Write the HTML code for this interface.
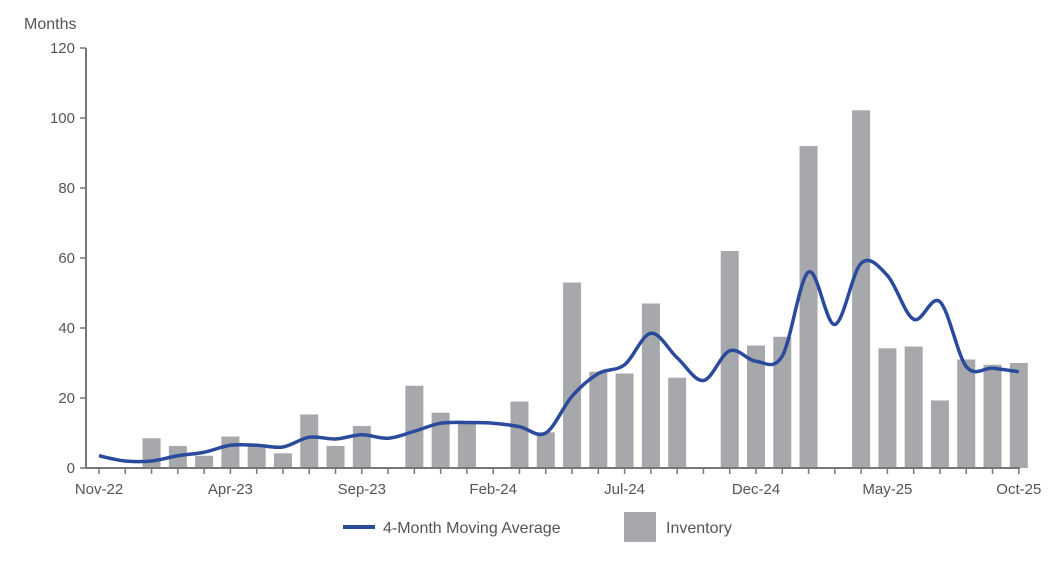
<!DOCTYPE html>
<html><head><meta charset="utf-8"><style>
html,body{margin:0;padding:0;background:#fff;}
svg{display:block;font-family:"Liberation Sans",Arial,sans-serif;}
</style></head><body>
<svg id="chart" width="1063" height="563" viewBox="0 0 1063 563">
<text x="24" y="29" font-size="16" fill="#555">Months</text>
<g id="grid"></g><g id="bars"></g><g id="axes"></g><g id="line"></g>
<g>
<line x1="343" y1="527" x2="375" y2="527" stroke="#2a4a9b" stroke-width="4"/>
<text x="383" y="533" font-size="16" fill="#555">4-Month Moving Average</text>
<rect x="624" y="512" width="32" height="30" fill="#a7a8ab"/>
<text x="666" y="533" font-size="16" fill="#555">Inventory</text>
</g>
</svg>
<script>
const months=["Nov-22","Dec-22","Jan-23","Feb-23","Mar-23","Apr-23","May-23","Jun-23","Jul-23","Aug-23","Sep-23","Oct-23","Nov-23","Dec-23","Jan-24","Feb-24","Mar-24","Apr-24","May-24","Jun-24","Jul-24","Aug-24","Sep-24","Oct-24","Nov-24","Dec-24","Jan-25","Feb-25","Mar-25","Apr-25","May-25","Jun-25","Jul-25","Aug-25","Sep-25","Oct-25"];
const inventory=[0,0,8.5,6.3,3.5,9,6.5,4.2,15.3,6.3,12,0,23.5,15.8,12.8,0,19,10.2,53,27.5,27,47,25.8,0,62,35,37.5,92,0,102.2,34.2,34.7,19.3,31,29.5,30];
const movingAvg=[3.5,2,2,3.5,4.5,6.5,6.5,6,8.8,8.3,9.5,8.5,10.5,12.8,13,12.8,11.8,10,20.5,27,29.5,38.5,31.5,25,33.5,30.5,32,56,41,58.5,55,42.5,47.5,29,28.5,27.5];
const yTicks=[0,20,40,60,80,100,120];
const xLabelIdx=[0,5,10,15,20,25,30,35];
const NS="http://www.w3.org/2000/svg";
const x=i=>99+i*26.28, y=v=>468-v*3.5;
function mk(t,a,p){const e=document.createElementNS(NS,t);for(const k in a)e.setAttribute(k,a[k]);p.appendChild(e);return e;}
const bars=document.getElementById('bars'),axes=document.getElementById('axes'),ln=document.getElementById('line');
inventory.forEach((v,i)=>{if(v<=0)return;const r=mk('rect',{x:x(i)-9,y:y(v),width:18,height:468-y(v),fill:'#a7a8ab'},bars);

});
const ya=mk('line',{x1:86,y1:48,x2:86,y2:468,stroke:'#777','stroke-width':2},axes);


const xa=mk('line',{x1:86,y1:468,x2:1020,y2:468,stroke:'#777','stroke-width':2},axes);


yTicks.forEach(v=>{mk('line',{x1:80,y1:y(v),x2:86,y2:y(v),stroke:'#777','stroke-width':1.5},axes);
const t=mk('text',{x:75,y:y(v)+5,'text-anchor':'end','font-size':15,fill:'#555'},axes);t.textContent=v;

});
months.forEach((m,i)=>{mk('line',{x1:x(i),y1:468,x2:x(i),y2:474,stroke:'#777','stroke-width':1.5},axes);});
xLabelIdx.forEach(i=>{const t=mk('text',{x:x(i),y:494,'text-anchor':'middle','font-size':15,fill:'#555'},axes);t.textContent=months[i];

});
const P=movingAvg.map((v,i)=>[x(i),y(v)]);
let d='M'+P[0][0]+','+P[0][1];
for(let i=0;i<P.length-1;i++){const p0=P[Math.max(0,i-1)],p1=P[i],p2=P[i+1],p3=P[Math.min(P.length-1,i+2)];
d+=` C${p1[0]+(p2[0]-p0[0])/6},${p1[1]+(p2[1]-p0[1])/6} ${p2[0]-(p3[0]-p1[0])/6},${p2[1]-(p3[1]-p1[1])/6} ${p2[0]},${p2[1]}`;}
const path=mk('path',{d:d,fill:'none',stroke:'#2a4a9b','stroke-width':3.5,'stroke-linejoin':'round'},ln);


</script>
</body></html>
